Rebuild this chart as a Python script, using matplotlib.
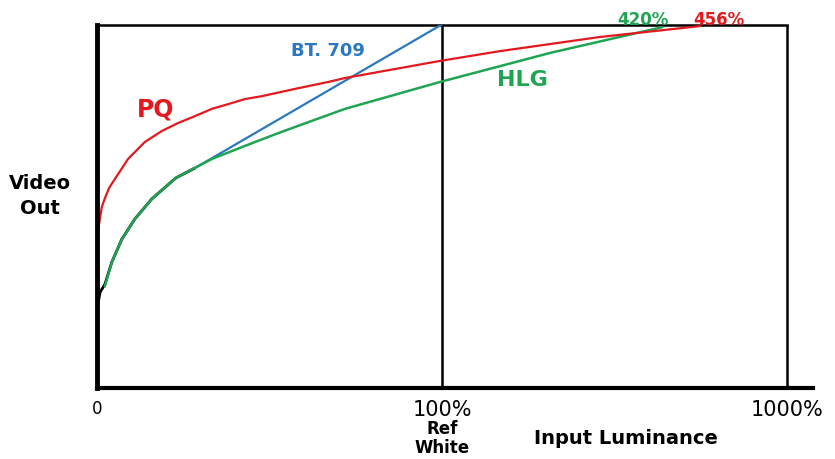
import numpy as np
import matplotlib.pyplot as plt

# positions along the input axis: 0 = origin, 1 = 100% (ref white), 2 = 1000%
pq_x = [0.001, 0.006, 0.014, 0.023, 0.035, 0.052, 0.090, 0.139, 0.188, 0.235, 0.284, 0.333,
        0.380, 0.429, 0.478, 0.574, 0.670, 0.719, 0.994, 1.168, 1.458, 1.748]
pq_y = [0.402, 0.452, 0.499, 0.523, 0.551, 0.576, 0.631, 0.678, 0.708, 0.730, 0.749, 0.769,
        0.782, 0.796, 0.804, 0.824, 0.843, 0.854, 0.901, 0.928, 0.967, 0.997]

hlg_x = [0.023, 0.043, 0.072, 0.110, 0.159, 0.229, 0.333, 0.429, 0.525, 0.623, 0.719, 0.994, 1.313, 1.638]
hlg_y = [0.281, 0.347, 0.410, 0.466, 0.521, 0.579, 0.631, 0.667, 0.702, 0.736, 0.769, 0.843, 0.923, 0.994]

# low end of the gamma curve (drawn black under HLG)
gamma_x = [0.0, 0.009, 0.023, 0.043, 0.072, 0.110, 0.159, 0.229, 0.284]
gamma_y = [0.218, 0.264, 0.286, 0.347, 0.410, 0.466, 0.521, 0.579, 0.606]

bt709_x = [0.284, 0.997]
bt709_y = [0.606, 1.0]

tick_pos = [0, 1, 2]
tick_labels = ['0', '100%', '1000%']

RED = '#e3191e'
GREEN = '#1fa552'
BLUE = '#2b78bd'

fig = plt.figure(figsize=(8.35, 4.6), dpi=100)
ax = fig.add_axes([97 / 835, 1 - 389 / 460, (813 - 97) / 835, (389 - 26) / 460])
ax.set_xlim(0, 716 / 345)
ax.set_ylim(0, 1)

# frame: heavy left / bottom axes, thin box lines
for s in ['top', 'right']:
    ax.spines[s].set_visible(False)
ax.spines['left'].set_linewidth(3.5)
ax.spines['bottom'].set_linewidth(3)
ax.plot([0, 2], [1, 1], color='black', lw=1.8, clip_on=False)
ax.plot([1, 1], [0, 1], color='black', lw=1.8)
ax.plot([2, 2], [0, 1], color='black', lw=1.8)

ax.plot(gamma_x, gamma_y, color='black', lw=2.0, solid_capstyle='butt', solid_joinstyle='round')
ax.plot(bt709_x, bt709_y, color=BLUE, lw=1.6)
ax.plot(hlg_x, hlg_y, color=GREEN, lw=1.8, solid_joinstyle='round')
ax.plot(pq_x, pq_y, color=RED, lw=1.6, solid_joinstyle='round')

ax.set_yticks([])
ax.set_xticks(tick_pos, tick_labels, fontsize=15)
ax.get_xticklabels()[0].set_fontsize(12)
ax.tick_params(axis='x', length=0, pad=8)

ax.text(0.17, 0.77, 'PQ', color=RED, fontsize=17, fontweight='bold', ha='center', va='center')
ax.text(0.67, 0.93, 'BT. 709', color=BLUE, fontsize=13, fontweight='bold', ha='center', va='center')
ax.text(1.232, 0.851, 'HLG', color=GREEN, fontsize=16, fontweight='bold', ha='center', va='center')
ax.text(1.583, 1.004, '420%', color=GREEN, fontsize=12, fontweight='bold', ha='center', va='baseline', clip_on=False)
ax.text(1.803, 1.004, '456%', color=RED, fontsize=12, fontweight='bold', ha='center', va='baseline', clip_on=False)

ax.text(1, -0.085, 'Ref\nWhite', transform=ax.get_xaxis_transform(), fontsize=12, fontweight='bold',
        ha='center', va='top', linespacing=1.1)
fig.text(626 / 835, 1 - 438 / 460, 'Input Luminance', fontsize=14, fontweight='bold', ha='center', va='center')
fig.text(40 / 835, 1 - 196 / 460, 'Video\nOut', fontsize=14, fontweight='bold', ha='center', va='center',
         linespacing=1.4)

fig.savefig('out.png', dpi=100)
